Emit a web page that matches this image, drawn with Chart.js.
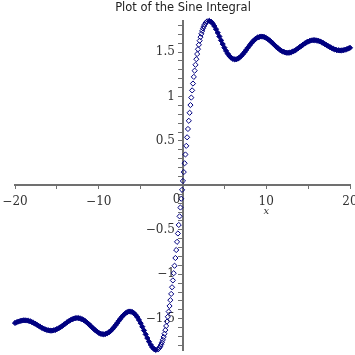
<!DOCTYPE html>
<html>
<head>
<meta charset="utf-8">
<script src="https://cdn.jsdelivr.net/npm/chart.js@4"></script>
<style>
  html, body { margin: 0; padding: 0; background: #fff; }
  canvas { display: block; }
</style>
</head>
<body>
<canvas id="siChart" width="355" height="355"></canvas>
<script>
// Sample points (x, Si(x))
const xNeg = [-20, -19.8, -19.6, -19.4, -19.2, -19, -18.8, -18.6, -18.4, -18.2, -18, -17.8, -17.6, -17.4, -17.2, -17,
    -16.8, -16.6, -16.4, -16.2, -16, -15.8, -15.6, -15.4, -15.2, -15, -14.8, -14.6, -14.4, -14.2, -14, -13.8, -13.6,
    -13.4, -13.2, -13, -12.8, -12.6, -12.4, -12.2, -12, -11.8, -11.6, -11.4, -11.2, -11, -10.8, -10.6, -10.4, -10.2,
    -10, -9.8, -9.6, -9.4, -9.2, -9, -8.8, -8.6, -8.4, -8.2, -8, -7.8, -7.6, -7.4, -7.2, -7, -6.8, -6.6, -6.4, -6.2,
    -6, -5.8, -5.6, -5.4, -5.2, -5, -4.8, -4.6, -4.4, -4.2, -4, -3.8, -3.6, -3.4, -3.2,
    -2.95, -2.85, -2.75, -2.65, -2.55, -2.45, -2.35, -2.25, -2.15, -2.05, -1.95, -1.85, -1.75, -1.65, -1.55,
    -1.45, -1.35, -1.25, -1.15, -1.05, -0.95, -0.85, -0.75, -0.65, -0.55, -0.45, -0.35, -0.25, -0.15, -0.05];
const siNeg = [-1.548, -1.540, -1.532, -1.526, -1.521, -1.519, -1.518, -1.520, -1.523, -1.529, -1.537, -1.546,
    -1.556, -1.567, -1.579, -1.590, -1.601, -1.611, -1.620, -1.627, -1.631, -1.634, -1.634, -1.631, -1.626, -1.618,
    -1.609, -1.597, -1.584, -1.570, -1.556, -1.542, -1.529, -1.517, -1.507, -1.499, -1.494, -1.492, -1.493, -1.498,
    -1.505, -1.515, -1.528, -1.544, -1.560, -1.578, -1.597, -1.614, -1.631, -1.646, -1.658, -1.668, -1.673, -1.675,
    -1.672, -1.665, -1.654, -1.639, -1.620, -1.598, -1.574, -1.549, -1.523, -1.498, -1.475, -1.455, -1.438, -1.426,
    -1.419, -1.419, -1.425, -1.437, -1.457, -1.482, -1.514, -1.550, -1.590, -1.632, -1.676, -1.718, -1.758, -1.793,
    -1.822, -1.842, -1.851,
    -1.846, -1.838, -1.826, -1.810, -1.790, -1.766, -1.738, -1.705, -1.669, -1.628, -1.582, -1.532, -1.478, -1.420,
    -1.357, -1.291, -1.221, -1.146, -1.069, -0.988, -0.904, -0.817, -0.727, -0.635, -0.541, -0.445, -0.348, -0.249,
    -0.150, -0.050];

const xPos = [0.05, 0.15, 0.25, 0.35, 0.45, 0.55, 0.65, 0.75, 0.85, 0.95, 1.05, 1.15, 1.25, 1.35, 1.45, 1.55, 1.65,
    1.75, 1.85, 1.95, 2.05, 2.15, 2.25, 2.35, 2.45, 2.55, 2.65, 2.75, 2.85, 2.95,
    3.2, 3.4, 3.6, 3.8, 4, 4.2, 4.4, 4.6, 4.8, 5, 5.2, 5.4, 5.6, 5.8, 6, 6.2, 6.4, 6.6, 6.8, 7, 7.2, 7.4, 7.6, 7.8,
    8, 8.2, 8.4, 8.6, 8.8, 9, 9.2, 9.4, 9.6, 9.8, 10, 10.2, 10.4, 10.6, 10.8, 11, 11.2, 11.4, 11.6, 11.8, 12, 12.2,
    12.4, 12.6, 12.8, 13, 13.2, 13.4, 13.6, 13.8, 14, 14.2, 14.4, 14.6, 14.8, 15, 15.2, 15.4, 15.6, 15.8, 16, 16.2,
    16.4, 16.6, 16.8, 17, 17.2, 17.4, 17.6, 17.8, 18, 18.2, 18.4, 18.6, 18.8, 19, 19.2, 19.4, 19.6, 19.8, 20];
const siPos = [0.050, 0.150, 0.249, 0.348, 0.445, 0.541, 0.635, 0.727, 0.817, 0.904, 0.988, 1.069, 1.146, 1.221,
    1.291, 1.357, 1.420, 1.478, 1.532, 1.582, 1.628, 1.669, 1.705, 1.738, 1.766, 1.790, 1.810, 1.826, 1.838, 1.846,
    1.851, 1.842, 1.822, 1.793, 1.758, 1.718, 1.676, 1.632, 1.590, 1.550, 1.514, 1.482, 1.457, 1.437, 1.425, 1.419,
    1.419, 1.426, 1.438, 1.455, 1.475, 1.498, 1.523, 1.549, 1.574, 1.598, 1.620, 1.639, 1.654, 1.665, 1.672, 1.675,
    1.673, 1.668, 1.658, 1.646, 1.631, 1.614, 1.597, 1.578, 1.560, 1.544, 1.528, 1.515, 1.505, 1.498, 1.493, 1.492,
    1.494, 1.499, 1.507, 1.517, 1.529, 1.542, 1.556, 1.570, 1.584, 1.597, 1.609, 1.618, 1.626, 1.631, 1.634, 1.634,
    1.631, 1.627, 1.620, 1.611, 1.601, 1.590, 1.579, 1.567, 1.556, 1.546, 1.537, 1.529, 1.523, 1.520, 1.518, 1.519,
    1.521, 1.526, 1.532, 1.540, 1.548];

const xRange = [-20, 20];
const yRange = [-1.852, 1.852];
const xLabelTicks = [-20, -10, 10, 20];
const yLabelTicks = [-1.5, -1, -0.5, 0.5, 1, 1.5];

const allY = siNeg.concat(siPos);
const points = xNeg.concat(xPos).map((x, i) => ({ x: x, y: allY[i] }));

const navy = '#000080';
const axisColor = '#707070';
const labelFont = { family: 'DejaVu Serif', size: 12 };

function fmt(v) {
    return (v < 0 ? '\u2212' : '') + String(Math.abs(v));
}

// "0" at the origin and the x axis name, placed with the scales
const axisText = {
    id: 'axisText',
    afterDraw(chart) {
        const ctx = chart.ctx;
        const xs = chart.scales.x, ys = chart.scales.y;
        const ox = xs.getPixelForValue(0), oy = ys.getPixelForValue(0);
        ctx.save();
        ctx.fillStyle = '#333';
        ctx.font = '12px "DejaVu Serif"';
        ctx.textAlign = 'right';
        ctx.textBaseline = 'top';
        ctx.fillText('0', ox - 2, oy + 8);
        ctx.font = 'italic 10px "DejaVu Serif"';
        ctx.textAlign = 'center';
        ctx.fillText('x', xs.getPixelForValue(10), oy + 21);
        ctx.restore();
    }
};

new Chart(document.getElementById('siChart').getContext('2d'), {
    type: 'scatter',
    data: {
        datasets: [{
            data: points,
            showLine: false,
            pointStyle: 'rectRot',
            pointRadius: 2.6,
            pointBorderWidth: 1,
            borderColor: navy,
            // where the samples crowd together the markers merge into a solid band
            backgroundColor: c => (c.raw && Math.abs(c.raw.x) > 3) ? navy : 'rgba(0,0,0,0)',
            clip: false
        }]
    },
    options: {
        responsive: false,
        animation: false,
        devicePixelRatio: 1,
        layout: { padding: { left: 15, right: 4, top: 0, bottom: 2 } },
        plugins: {
            legend: { display: false },
            tooltip: { enabled: false },
            title: {
                display: true,
                text: 'Plot of the Sine Integral',
                color: '#222',
                font: { family: 'DejaVu Sans', size: 11.5, weight: 'normal' },
                padding: { top: 1, bottom: 6 }
            }
        },
        scales: {
            x: {
                type: 'linear',
                position: { y: 0 },
                min: xRange[0],
                max: xRange[1],
                border: { color: axisColor, width: 2 },
                grid: { drawOnChartArea: false, drawTicks: true, tickLength: 3, color: axisColor },
                ticks: {
                    stepSize: 5,
                    autoSkip: false,
                    includeBounds: false,
                    maxRotation: 0,
                    padding: 6,
                    color: '#333',
                    font: labelFont,
                    callback: v => xLabelTicks.includes(v) ? fmt(v) : ''
                },
                afterFit: s => { s.paddingLeft = 0; s.paddingRight = 0; }
            },
            y: {
                type: 'linear',
                position: { x: 0 },
                min: yRange[0],
                max: yRange[1],
                border: { color: axisColor, width: 2 },
                grid: { drawOnChartArea: false, drawTicks: true, tickLength: 4, color: axisColor },
                ticks: {
                    stepSize: 0.1,
                    autoSkip: false,
                    includeBounds: false,
                    color: '#333',
                    font: labelFont,
                    // labels sit right-aligned on the axis line, trailing spaces keep them clear of the ticks
                    callback: v => {
                        const r = Math.round(v * 10) / 10;
                        return yLabelTicks.includes(r) ? fmt(r) + '  ' : '';
                    }
                },
                afterFit: s => { s.paddingTop = 0; s.paddingBottom = 0; }
            }
        }
    },
    plugins: [axisText]
});
</script>
</body>
</html>
